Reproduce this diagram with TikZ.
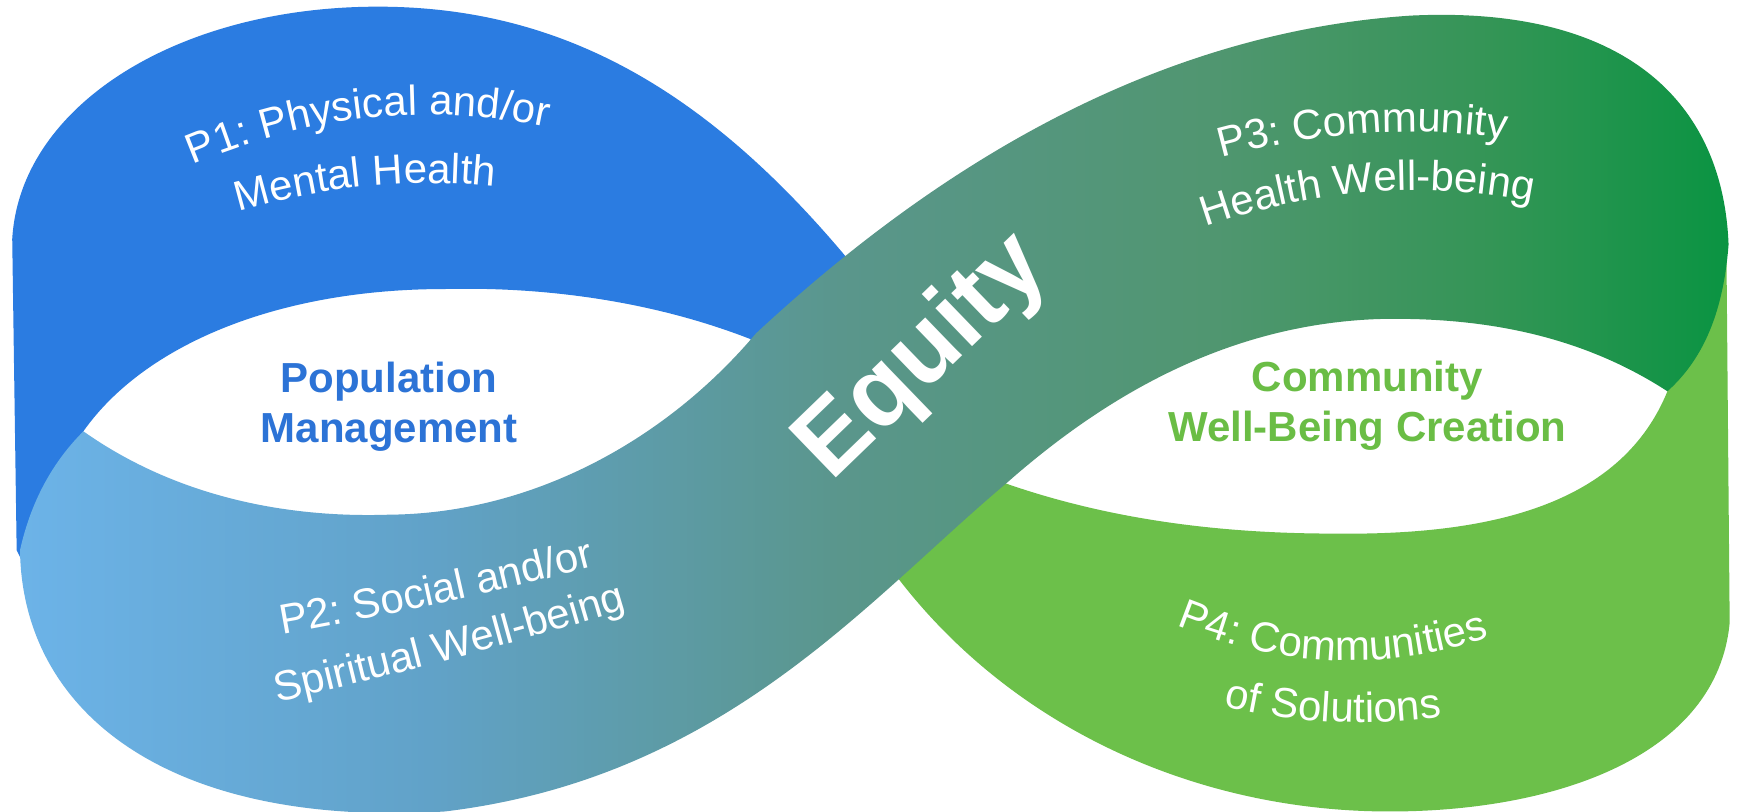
\documentclass[tikz,border=0pt]{standalone}
\usepackage{fontspec}
\setmainfont{Liberation Sans}
\usetikzlibrary{decorations.text}
\definecolor{bluebk}{RGB}{43,124,225}
\definecolor{greenbk}{RGB}{108,192,74}
\definecolor{popblue}{RGB}{44,115,214}
\definecolor{comgreen}{RGB}{106,189,69}
\definecolor{rA}{RGB}{108,179,232}
\definecolor{rB}{RGB}{97,162,200}
\definecolor{rC}{RGB}{90,150,140}
\definecolor{rD}{RGB}{80,150,112}
\definecolor{rE}{RGB}{52,149,86}
\definecolor{rF}{RGB}{10,148,66}
\pgfdeclarehorizontalshading{ribbonshade}{100bp}{color(0bp)=(rA); color(25bp)=(rA); color(37bp)=(rB); color(49bp)=(rC); color(60bp)=(rD); color(68bp)=(rE); color(75bp)=(rF); color(100bp)=(rF)}
\newcommand\lblfont{\fontsize{42}{50}\selectfont}
\begin{document}
\begin{tikzpicture}[x=1.1116pt, y=-1.1116pt,
  hub/.style={font=\bfseries\fontsize{42}{50}\selectfont, align=center, inner sep=0pt},
  curved/.style={decorate, decoration={text along path, text align=center, text color=white, text={|\lblfont|#1}}}]
\fill[white] (0,0) rectangle (1568,730);
\useasboundingbox (0,0) rectangle (1568,730);
% back blue band
\fill[bluebk] (15,495) -- (11,215) .. controls (18,95) and (160,6) .. (340,6)
  .. controls (520,6) and (660,95) .. (800,280) -- (690,330) -- (675,305)
  .. controls (580,268) and (480,258) .. (400,260)
  .. controls (250,260) and (130,310) .. (75,388) -- (20,505) -- cycle;
% back green band
\fill[greenbk] (850,430) -- (905,435) .. controls (1000,468) and (1100,480) .. (1200,480)
  .. controls (1350,482) and (1460,450) .. (1500,352) -- (1553,215) -- (1556,560)
  .. controls (1545,680) and (1400,730) .. (1250,730)
  .. controls (1060,730) and (880,640) .. (780,480) -- cycle;
% front ribbon
\shade[shading=ribbonshade] (75,388) .. controls (160,448) and (260,466) .. (350,463)
  .. controls (480,462) and (600,395) .. (680,300)
  .. controls (820,170) and (1020,30) .. (1270,14)
  .. controls (1460,5) and (1550,90) .. (1555,220)
  .. controls (1550,285) and (1530,325) .. (1500,352)
  .. controls (1420,300) and (1330,285) .. (1240,287)
  .. controls (1100,292) and (990,360) .. (905,435)
  .. controls (780,540) and (650,700) .. (400,730)
  .. controls (150,745) and (20,640) .. (18,495)
  .. controls (28,450) and (48,415) .. (75,388) -- cycle;
% curved labels
\path[curved={P1: Physical and/or}] (115,176.1) .. controls (261.7,97.4) and (408.3,82.5) .. (555,131.5);
\path[curved={Mental Health}] (132,220.5) .. controls (265.3,162.4) and (398.7,149.8) .. (532,182.9);
\path[curved={P2: Social and/or}] (173.5,584.1) .. controls (320.2,561.7) and (466.8,529.6) .. (613.5,487.7);
\path[curved={Spiritual Well-being}] (176,647.7) .. controls (329.3,615.3) and (482.7,574.6) .. (636,525.7);
\path[curved={P3: Community}] (1028,166) .. controls (1161.3,113.5) and (1294.7,104.7) .. (1428,139.6);
\path[curved={Health Well-being}] (1023,229.5) .. controls (1163,164.2) and (1303,153.6) .. (1443,197.7);
\path[curved={P4: Communities}] (990,528.4) .. controls (1130,610.9) and (1270,615.9) .. (1410,543.2);
\path[curved={of Solutions}] (1020,609.1) .. controls (1140,657.2) and (1260,663) .. (1380,626.3);
% centre labels
\node[hub, text=popblue] (pop) at (350,366) {Population\\Management};
\node[hub, text=comgreen] (com) at (1230,365) {Community\\Well-Being Creation};
\node[text=white, font=\bfseries\fontsize{100}{110}\selectfont, rotate=44, inner sep=0pt] (eq) at (831,322) {Equity};
\end{tikzpicture}
\end{document}
